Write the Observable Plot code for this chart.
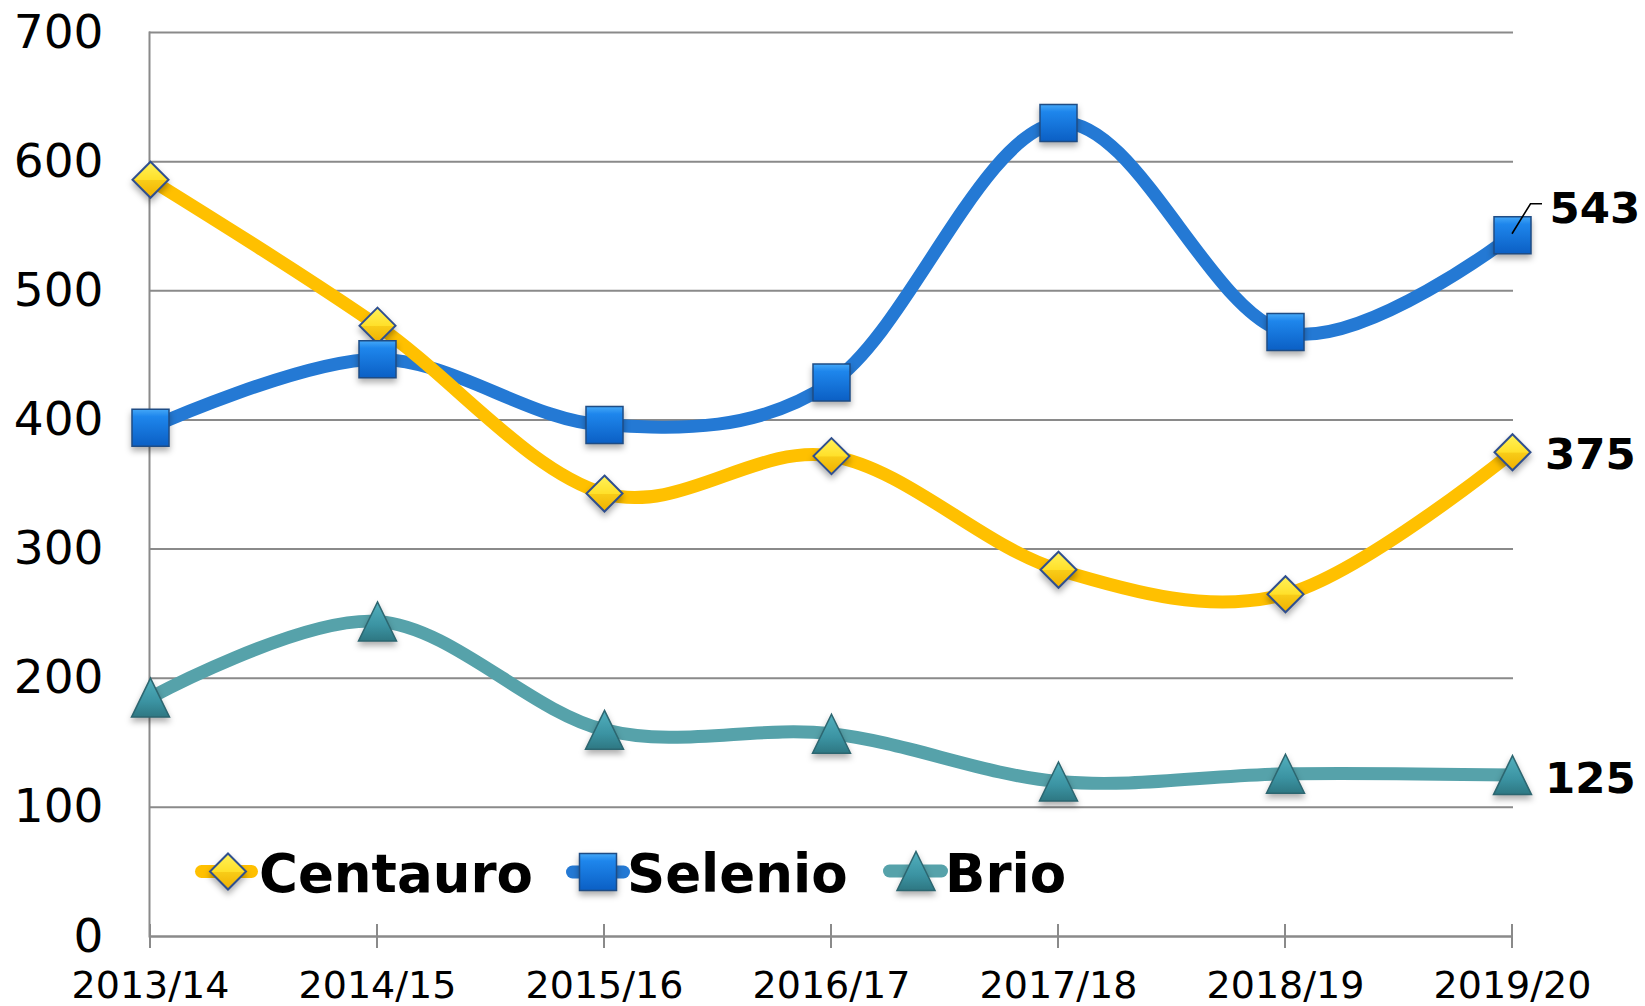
<!DOCTYPE html>
<html><head><meta charset="utf-8">
<script src="https://cdn.jsdelivr.net/npm/d3@7"></script>
<script src="https://cdn.jsdelivr.net/npm/@observablehq/plot@0.6"></script>
<style>
html,body{margin:0;padding:0;background:#fff;}
#wrap{position:relative;width:1645px;height:1006px;font-family:"DejaVu Sans",Verdana,sans-serif;}
#wrap > svg{position:absolute;left:0;top:0;}
g[aria-label="dot"] path, .legsym{filter:drop-shadow(0px 4px 3px rgba(0,0,0,0.32));}
</style></head><body>
<svg id="defs" width="0" height="0" style="position:absolute">
  <defs>
    <linearGradient id="gDiamond" x1="0" y1="0" x2="0" y2="1">
      <stop offset="0" stop-color="#FFF25A"/><stop offset="0.5" stop-color="#FFE02A"/><stop offset="0.52" stop-color="#F8CC18"/><stop offset="1" stop-color="#F0B000"/>
    </linearGradient>
    <linearGradient id="gSquare" x1="0" y1="0" x2="0" y2="1">
      <stop offset="0" stop-color="#44A8F8"/><stop offset="0.2" stop-color="#1E86EC"/><stop offset="1" stop-color="#0B5FC4"/>
    </linearGradient>
    <linearGradient id="gTriangle" x1="0" y1="0" x2="0" y2="1">
      <stop offset="0" stop-color="#52B0BE"/><stop offset="0.6" stop-color="#3B93A2"/><stop offset="1" stop-color="#2E7782"/>
    </linearGradient>
  </defs>
</svg>
<div id="wrap"></div>
<script>
// ---- data ----
const periods = ["2013/14","2014/15","2015/16","2016/17","2017/18","2018/19","2019/20"];
const centauro = [586, 473, 343, 372, 284, 265, 375];
const selenio  = [394, 447, 396, 429, 630, 468, 543];
const brio     = [185, 244, 160, 157, 120, 126, 125];
const yTicks = [0, 100, 200, 300, 400, 500, 600, 700];
const seriesNames = ["Centauro", "Selenio", "Brio"];

// ---- styling ----
const lineColors = {Centauro: "#FFC000", Selenio: "#2479D4", Brio: "#56A2AA"};
const fills = {Centauro: "url(#gDiamond)", Selenio: "url(#gSquare)", Brio: "url(#gTriangle)"};
const strokes = {Centauro: "#2F4F8F", Selenio: "#1E4C85", Brio: "#2C6670"};
const symDiamond = {draw(c){ c.moveTo(0,-18); c.lineTo(18,0); c.lineTo(0,18); c.lineTo(-18,0); c.closePath(); }};
const symSquare = {draw(c){ c.moveTo(-18.5,-18.5); c.lineTo(18.5,-18.5); c.lineTo(18.5,18.5); c.lineTo(-18.5,18.5); c.closePath(); }};
const symTriangle = {draw(c){ c.moveTo(0,-19.5); c.lineTo(19,19.5); c.lineTo(-19,19.5); c.closePath(); }};
const symbols = {Centauro: symDiamond, Selenio: symSquare, Brio: symTriangle};

const table = {
  Centauro: periods.map((p, i) => ({period: p, value: centauro[i]})),
  Selenio: periods.map((p, i) => ({period: p, value: selenio[i]})),
  Brio: periods.map((p, i) => ({period: p, value: brio[i]}))
};

const grid = "#8a8a8a";

const lineMarks = ["Brio", "Selenio", "Centauro"].map(s =>
  Plot.line(table[s], {x: "period", y: "value", stroke: lineColors[s], strokeWidth: 13,
    curve: "cardinal", tension: 0, strokeLinecap: "round", strokeLinejoin: "round"}));
const dotMarks = seriesNames.map(s =>
  Plot.dot(table[s], {x: "period", y: "value", symbol: symbols[s], fill: fills[s],
    stroke: strokes[s], strokeWidth: s === "Centauro" ? 2 : 1.5}));

const last = periods.length - 1;
const labelStyle = {textAnchor: "start", fontWeight: "bold", fontSize: 43.5, fill: "#000"};

const leader = (index, scales) => {
  const x = scales.x(periods[last]), y = scales.y(selenio[last]);
  const p = d3.create("svg:path")
    .attr("d", `M${x},${y - 1}L${x + 18.5},${y - 31}L${x + 30},${y - 31}`)
    .attr("fill", "none").attr("stroke", "#000").attr("stroke-width", 1.6);
  return p.node();
};

// category tick marks crossing the baseline
const crossTicks = (index, scales) => {
  const g = d3.create("svg:g").attr("stroke", grid).attr("stroke-width", 2);
  const y0 = scales.y(0);
  for (const p of periods) {
    const x = scales.x(p);
    g.append("line").attr("x1", x).attr("x2", x).attr("y1", y0 - 12).attr("y2", y0 + 12);
  }
  return g.node();
};

const chart = Plot.plot({
  width: 1645, height: 1006,
  marginLeft: 149, marginRight: 132, marginTop: 32, marginBottom: 70,
  style: {fontFamily: "DejaVu Sans, Verdana, sans-serif", background: "transparent", color: "#000"},
  x: {type: "point", domain: periods, padding: 0},
  y: {domain: [0, 700]},
  marks: [
    Plot.gridY(yTicks.filter(v => v > 0), {stroke: grid, strokeOpacity: 1, strokeWidth: 2}),
    Plot.frame({anchor: "left", stroke: grid, strokeWidth: 2}),
    Plot.ruleY([0], {stroke: grid, strokeWidth: 2.5}),
    crossTicks,
    Plot.axisY({ticks: yTicks, tickSize: 0, tickPadding: 46, fontSize: 47, tickFormat: d => String(d), label: null}),
    Plot.axisX({tickSize: 0, tickPadding: 35, fontSize: 38, label: null}),
    ...lineMarks,
    ...dotMarks,
    Plot.text([selenio[last]], {x: () => periods[last], y: d => d, text: d => String(d), dx: 37, dy: -26, ...labelStyle}),
    Plot.text([centauro[last]], {x: () => periods[last], y: d => d, text: d => String(d), dx: 32.5, dy: 3, ...labelStyle}),
    Plot.text([brio[last]], {x: () => periods[last], y: d => d, text: d => String(d), dx: 32.5, dy: 4, ...labelStyle}),
    leader
  ]
});
document.getElementById("wrap").append(chart);

// ---- legend (overlay inside chart area) ----
const legendItems = [
  {name: "Centauro", x0: 195, x1: 258, cx: 228, cy: 871.5, tx: 259},
  {name: "Selenio", x0: 566, x1: 630, cx: 598, cy: 872, tx: 627},
  {name: "Brio", x0: 883, x1: 948, cx: 916, cy: 871, tx: 945}
];
const leg = d3.create("svg").attr("width", 1645).attr("height", 1006)
  .style("pointer-events", "none").style("font-family", "DejaVu Sans, Verdana, sans-serif");
for (const it of legendItems) {
  const g = leg.append("g");
  g.append("line").attr("x1", it.x0 + 6.5).attr("x2", it.x1 - 6.5).attr("y1", it.cy).attr("y2", it.cy)
    .attr("stroke", lineColors[it.name]).attr("stroke-width", 13).attr("stroke-linecap", "round");
  const path = d3.path();
  symbols[it.name].draw(path);
  g.append("path").attr("class", "legsym").attr("d", path.toString())
    .attr("transform", `translate(${it.cx},${it.cy})`)
    .attr("fill", fills[it.name]).attr("stroke", strokes[it.name]).attr("stroke-width", it.name === "Centauro" ? 2 : 1.5);
  g.append("text").attr("x", it.tx).attr("y", 892).attr("font-size", 53).attr("font-weight", "bold")
    .attr("fill", "#000").text(it.name);
}
document.getElementById("wrap").append(leg.node());
</script>
</body></html>
